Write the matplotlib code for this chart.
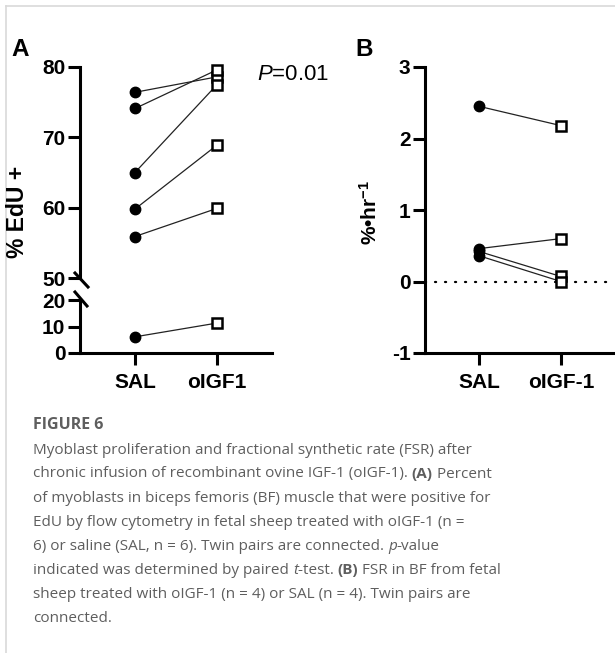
import numpy as np
import matplotlib
matplotlib.use('Agg')
import matplotlib.pyplot as plt
from matplotlib.lines import Line2D
from matplotlib.transforms import IdentityTransform

plt.rcParams['font.family'] = 'Liberation Sans'
plt.rcParams['axes.unicode_minus'] = False
plt.rcParams['mathtext.fontset'] = 'custom'
plt.rcParams['mathtext.rm'] = 'Liberation Sans'
plt.rcParams['mathtext.it'] = 'Liberation Sans:italic'
plt.rcParams['mathtext.bf'] = 'Liberation Sans:bold'

# panel A: % EdU+ (twin pairs)
groups_a = ['SAL', 'oIGF1']
sal_a = [76.4, 74.1, 65.0, 59.8, 55.9, 6.1]
igf_a = [78.6, 79.6, 77.5, 68.9, 59.9, 11.3]

# panel B: FSR (twin pairs)
groups_b = ['SAL', 'oIGF-1']
sal_b = [2.45, 0.46, 0.42, 0.36]
igf_b = [2.18, 0.60, 0.07, 0.00]

W, H = 615, 653
fig = plt.figure(figsize=(W / 100, H / 100), dpi=100)


def box(x0, x1, ytop, ybot):
    return [x0 / W, 1 - ybot / H, (x1 - x0) / W, (ybot - ytop) / H]


TICKFS = 15
LW = 2.2


def style(ax):
    for s in ['top', 'right']:
        ax.spines[s].set_visible(False)
    for s in ['left', 'bottom']:
        ax.spines[s].set_linewidth(LW)
    ax.tick_params(width=LW, length=8.5, labelsize=TICKFS, pad=2)
    ax.tick_params(axis='x', pad=6)
    for lab in ax.get_yticklabels() + ax.get_xticklabels():
        lab.set_fontweight('bold')


def pairs(ax, a, b):
    for ya, yb in zip(a, b):
        ax.plot([0, 1], [ya, yb], color='#222222', lw=0.9, zorder=1, clip_on=False)
    ax.plot(np.zeros(len(a)), a, 'o', ms=7.5, color='black', zorder=3, clip_on=False)
    ax.plot(np.ones(len(b)), b, 's', ms=7, mfc='white', mec='black', mew=1.8,
            zorder=3, clip_on=False)


xl = (-0.67, 1.67)

# panel A, upper segment
axt = fig.add_axes(box(80, 272, 67, 278))
axt.set_xlim(*xl)
axt.set_ylim(50, 80)
axt.set_yticks([50, 60, 70, 80])
pairs(axt, sal_a[:5], igf_a[:5])
style(axt)
axt.spines['bottom'].set_visible(False)
axt.tick_params(axis='x', bottom=False, labelbottom=False)

# panel A, lower segment
axb = fig.add_axes(box(80, 272, 300, 353))
axb.set_xlim(*xl)
axb.set_ylim(0, 20)
axb.set_yticks([0, 10, 20])
pairs(axb, sal_a[5:], igf_a[5:])
axb.set_xticks([0, 1])
axb.set_xticklabels(groups_a)
style(axb)

# break marks
for (xa, ya, xb, yb) in [(75, 273, 88, 287), (75, 292, 87, 306)]:
    fig.add_artist(Line2D([xa / W, xb / W], [1 - ya / H, 1 - yb / H],
                          color='black', lw=LW, transform=fig.transFigure))

fig.text(18 / W, 1 - 212 / H, '% EdU +', rotation=90, ha='center', va='center',
         fontsize=16.5, fontweight='bold')
fig.text(257 / W, 1 - 75 / H, '$P$=0.01', ha='left', va='center', fontsize=16)
fig.text(11 / W, 1 - 50 / H, 'A', fontsize=17.5, fontweight='bold', va='center')

# panel B
axB = fig.add_axes(box(425, 615, 67, 353))
axB.set_xlim(-0.66, 1.66)
axB.set_ylim(-1, 3)
axB.set_yticks([-1, 0, 1, 2, 3])
axB.axhline(0, color='black', lw=1.6, ls=(0, (0.5, 4)), dash_capstyle='round', zorder=0)
pairs(axB, sal_b, igf_b)
axB.set_xticks([0, 1])
axB.set_xticklabels(groups_b)
style(axB)
fig.text(370 / W, 1 - 212 / H, '%•hr$^{\\mathbf{-1}}$', rotation=90, ha='center',
         va='center', fontsize=15, fontweight='bold')
fig.text(355 / W, 1 - 50 / H, 'B', fontsize=17.5, fontweight='bold', va='center')

# card border
fig.add_artist(Line2D([6 / W, 6 / W], [0, 1 - 6 / H], color='#d9d9d9', lw=1.2,
                      transform=fig.transFigure))
fig.add_artist(Line2D([6 / W, 1], [1 - 6 / H, 1 - 6 / H], color='#d9d9d9', lw=1.2,
                      transform=fig.transFigure))

# caption
CAPC = '#5e5e5e'
CAPF = 'Open Sans'
CAPFS = 11
renderer = fig.canvas.get_renderer()


def rich(x, y, parts, fs=CAPFS):
    for txt, kind in parts:
        kw = {}
        if kind == 'b':
            kw['fontweight'] = 'bold'
        elif kind == 'i':
            kw['fontstyle'] = 'italic'
        t = fig.text(x, H - y, txt, transform=IdentityTransform(), va='center',
                     ha='left', color=CAPC, family=CAPF, fontsize=fs, **kw)
        bb = t.get_window_extent(renderer)
        x = bb.x1


rich(33, 425, [('FIGURE 6', 'b')], fs=11.5)
lines = [
    [('Myoblast proliferation and fractional synthetic rate (FSR) after', 'n')],
    [('chronic infusion of recombinant ovine IGF-1 (oIGF-1). ', 'n'), ('(A)', 'b'), (' Percent', 'n')],
    [('of myoblasts in biceps femoris (BF) muscle that were positive for', 'n')],
    [('EdU by flow cytometry in fetal sheep treated with oIGF-1 (n =', 'n')],
    [('6) or saline (SAL, n = 6). Twin pairs are connected. ', 'n'), ('p', 'i'), ('-value', 'n')],
    [('indicated was determined by paired ', 'n'), ('t', 'i'), ('-test. ', 'n'), ('(B)', 'b'),
     (' FSR in BF from fetal', 'n')],
    [('sheep treated with oIGF-1 (n = 4) or SAL (n = 4). Twin pairs are', 'n')],
    [('connected.', 'n')],
]
for i, ln in enumerate(lines):
    rich(33, 450 + 24 * i, ln)

fig.savefig('out.png', dpi=100)
